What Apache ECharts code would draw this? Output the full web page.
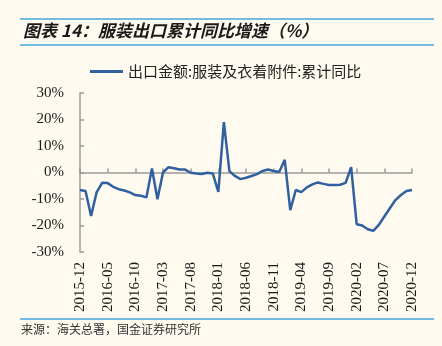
<!DOCTYPE html>
<html>
<head>
<meta charset="utf-8">
<script src="https://cdn.jsdelivr.net/npm/echarts@6/dist/echarts.min.js"></script>
<style>
html,body{margin:0;padding:0;background:#fefaf0;}
#c{width:442px;height:346px;}
</style>
</head>
<body>
<div id="c"></div>
<script>
const months = ["2015-12","2016-01","2016-02","2016-03","2016-04","2016-05","2016-06","2016-07","2016-08","2016-09","2016-10","2016-11","2016-12",
"2017-01","2017-02","2017-03","2017-04","2017-05","2017-06","2017-07","2017-08","2017-09","2017-10","2017-11","2017-12",
"2018-01","2018-02","2018-03","2018-04","2018-05","2018-06","2018-07","2018-08","2018-09","2018-10","2018-11","2018-12",
"2019-01","2019-02","2019-03","2019-04","2019-05","2019-06","2019-07","2019-08","2019-09","2019-10","2019-11","2019-12",
"2020-01","2020-02","2020-03","2020-04","2020-05","2020-06","2020-07","2020-08","2020-09","2020-10","2020-11","2020-12"];
const values = [-6.6,-7.0,-16.4,-7.5,-3.9,-4.0,-5.4,-6.3,-6.8,-7.5,-8.5,-8.8,-9.4,
1.5,-10.1,0.0,2.0,1.6,1.1,1.1,-0.1,-0.4,-0.6,-0.1,-0.4,
-7.3,19.0,0.5,-1.3,-2.5,-2.0,-1.3,-0.6,0.6,1.1,0.6,0.2,
4.8,-14.2,-6.6,-7.4,-5.6,-4.5,-3.75,-4.3,-4.7,-4.7,-4.6,-3.9,
2.0,-19.5,-20.0,-21.4,-22.0,-19.8,-16.6,-13.5,-10.4,-8.5,-7.0,-6.6];
const seriesName = "出口金额:服装及衣着附件:累计同比";
const titleText = "图表 14：服装出口累计同比增速（%）";
const sourceText = "来源：海关总署，国金证券研究所";

const chart = echarts.init(document.getElementById('c'));
const serif = "'Liberation Serif','Times New Roman',serif";
const cjk = "'Noto Sans CJK SC',sans-serif";
chart.setOption({
  backgroundColor: '#fefaf0',
  animation: false,
  grid: {left: 80, right: 30, top: 93, bottom: 94},
  legend: {
    left: 85, top: 59,
    icon: 'rect', itemWidth: 33, itemHeight: 3,
    textStyle: {fontFamily: cjk, fontSize: 15, color: '#222'},
    data: [seriesName]
  },
  xAxis: [{
    type: 'category', data: months, boundaryGap: false,
    axisLine: {onZero: true, lineStyle: {color: '#9a9a9a', width: 1.5}},
    axisTick: {show: true, inside: true, length: 4, interval: 4, lineStyle: {color: '#9a9a9a', width: 1.5}},
    axisLabel: {show: false}
  }, {
    type: 'category', data: months, boundaryGap: false, position: 'bottom',
    axisLine: {show: false, onZero: false},
    axisTick: {show: false},
    axisLabel: {rotate: 90, interval: 4, margin: 10, fontFamily: serif, fontSize: 15, color: '#1a1a1a'}
  }],
  yAxis: {
    type: 'value', min: -30, max: 30, interval: 10,
    axisLine: {show: true, lineStyle: {color: '#9a9a9a', width: 1.5}},
    axisTick: {show: true, inside: true, length: 4, lineStyle: {color: '#9a9a9a', width: 1.5}},
    splitLine: {show: false},
    axisLabel: {formatter: '{value}%', margin: 16, fontFamily: serif, fontSize: 15, color: '#1a1a1a'}
  },
  series: [{
    name: seriesName, type: 'line', data: values, xAxisIndex: 0,
    symbol: 'none', smooth: false,
    lineStyle: {color: '#31609e', width: 2.5},
    itemStyle: {color: '#31609e'}
  }],
  graphic: [
    {type: 'line', shape: {x1: 20, y1: 19, x2: 434, y2: 19}, style: {stroke: '#45a6df', lineWidth: 1.5}},
    {type: 'line', shape: {x1: 20, y1: 45, x2: 434, y2: 45}, style: {stroke: '#45a6df', lineWidth: 1.5}},
    {type: 'line', shape: {x1: 20, y1: 319, x2: 434, y2: 319}, style: {stroke: '#45a6df', lineWidth: 1.5}},
    {type: 'text', left: 23, top: 22, style: {text: titleText, font: "italic bold 17px 'Noto Sans CJK SC',sans-serif", fill: '#1a1a1a'}},
    {type: 'text', left: 21, top: 323, style: {text: sourceText, font: "12px 'Noto Sans CJK SC',sans-serif", fill: '#333'}}
  ]
});
</script>
</body>
</html>
